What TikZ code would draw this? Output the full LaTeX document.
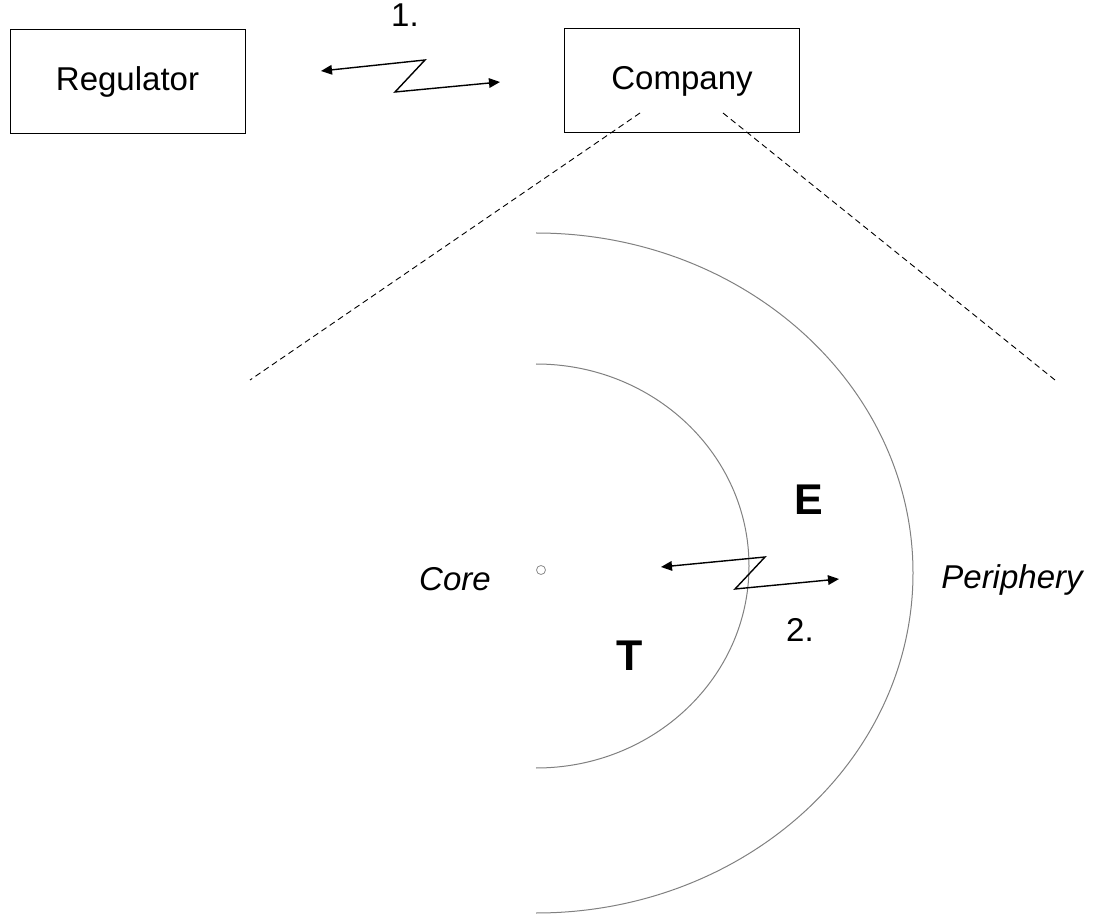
\documentclass[tikz,border=0pt]{standalone}
\usepackage{fontspec}
\setmainfont{Liberation Sans}
\usetikzlibrary{arrows.meta}
\tikzset{
  px/.style={x=0.5pt,y=-0.5pt},
  txt/.style={inner sep=0pt,font=\fontsize{16.5}{19}\selectfont},
  box/.style={txt,draw=black,line width=0.5pt,minimum width=117.5pt,minimum height=52pt},
  bigletter/.style={inner sep=0pt,font=\fontsize{21.5}{24}\selectfont\bfseries},
  zigzag/.style={line width=0.7pt,{Triangle[length=5.5pt,width=4.8pt]}-{Triangle[length=5.5pt,width=4.8pt]}},
  zone/.style={draw=black!50,line width=0.5pt},
  zoom/.style={dash pattern=on 3pt off 2pt,line width=0.45pt}
}
\begin{document}
\begin{tikzpicture}[px]
\useasboundingbox (0,0) rectangle (1098,914);

% the two actors
\node[box] (reg) at (127.5,81.5) {Regulator};
\node[box] (comp) at (682,81) {Company};
\node[txt] (one) at (405,15) {1.};

% relation 1 between regulator and company
\coordinate (a1) at (321,71);
\coordinate (a2) at (425,60);
\coordinate (a3) at (395,92);
\coordinate (a4) at (500,82);
\draw[zigzag] (a1) -- (a2) -- (a3) -- (a4);

% zoom lines opening below the company
\coordinate (zl0) at (640,113);
\coordinate (zl1) at (250,380);
\coordinate (zr0) at (723,113);
\coordinate (zr1) at (1055,380);
\draw[zoom] (zl0) -- (zl1);
\draw[zoom] (zr0) -- (zr1);

% concentric zones of the company
\coordinate (outtop) at (536,233);
\coordinate (intop) at (536,364);
\draw[zone] (outtop) arc[start angle=-90,end angle=90,x radius=377,y radius=340];
\draw[zone] (intop) arc[start angle=-90,end angle=90,x radius=213,y radius=202];
\node[draw=black!45,line width=0.4pt,circle,minimum size=4.5pt,inner sep=0pt] (core) at (541,570) {};

% zone labels
\node[txt,font=\fontsize{16.5}{19}\selectfont\itshape] (corel) at (455,579) {Core};
\node[txt,font=\fontsize{16.5}{19}\selectfont\itshape] (peri) at (1012,580) {Periphery};
\node[bigletter] (E) at (809,500) {E};
\node[bigletter] (T) at (630,656) {T};
\node[txt] (two) at (800,630) {2.};

% relation 2 between core and periphery
\coordinate (b1) at (661,567);
\coordinate (b2) at (765,557);
\coordinate (b3) at (735,589);
\coordinate (b4) at (839,579);
\draw[zigzag] (b1) -- (b2) -- (b3) -- (b4);
\end{tikzpicture}
\end{document}
